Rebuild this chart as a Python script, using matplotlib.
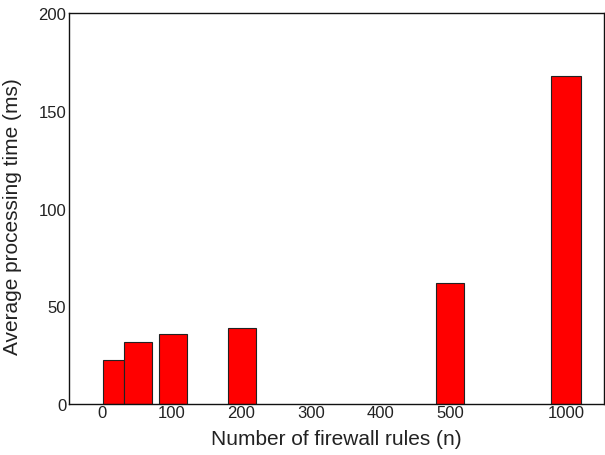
import matplotlib
matplotlib.use("Agg")
import matplotlib.pyplot as plt

plt.rcParams['font.family'] = ['Liberation Sans', 'DejaVu Sans']

# Data (x positions on the chart's compressed axis; 1000 drawn at 6.67)
bar_pos = [0.17, 0.52, 1.02, 2.01, 5.0, 6.67]
bar_width = [0.30, 0.40, 0.40, 0.40, 0.40, 0.43]
values = [22.7, 31.9, 35.8, 38.9, 61.9, 167.8]
tick_pos = [0, 1, 2, 3, 4, 5, 6.67]
tick_labels = ['0', '100', '200', '300', '400', '500', '1000']
y_ticks = [0, 50, 100, 150, 200]

fig = plt.figure(figsize=(6.05, 4.56), dpi=100)
ax = fig.add_axes([69/605, 1-405/456, (604-69)/605, (405-14)/456])

ax.bar(bar_pos, values, width=bar_width, color='#ff0000', edgecolor='#222222', linewidth=0.8)

ax.set_xlim(-0.47, 7.21)
ax.set_ylim(0, 200)
ax.set_xticks(tick_pos)
ax.set_xticklabels(tick_labels)
ax.set_yticks(y_ticks)
ax.tick_params(axis='both', length=0, labelsize=12, colors='#222222', pad=2)
ax.tick_params(axis='x', pad=1)
for s in ax.spines.values():
    s.set_color('#111111')
    s.set_linewidth(1.0)

ax.set_xlabel('Number of firewall rules (n)', fontsize=15, color='#222222', labelpad=6)
ax.set_ylabel('Average processing time (ms)', fontsize=15, color='#222222')
ax.yaxis.set_label_coords(-0.088, 0.482)

fig.savefig('out.png', dpi=100)
